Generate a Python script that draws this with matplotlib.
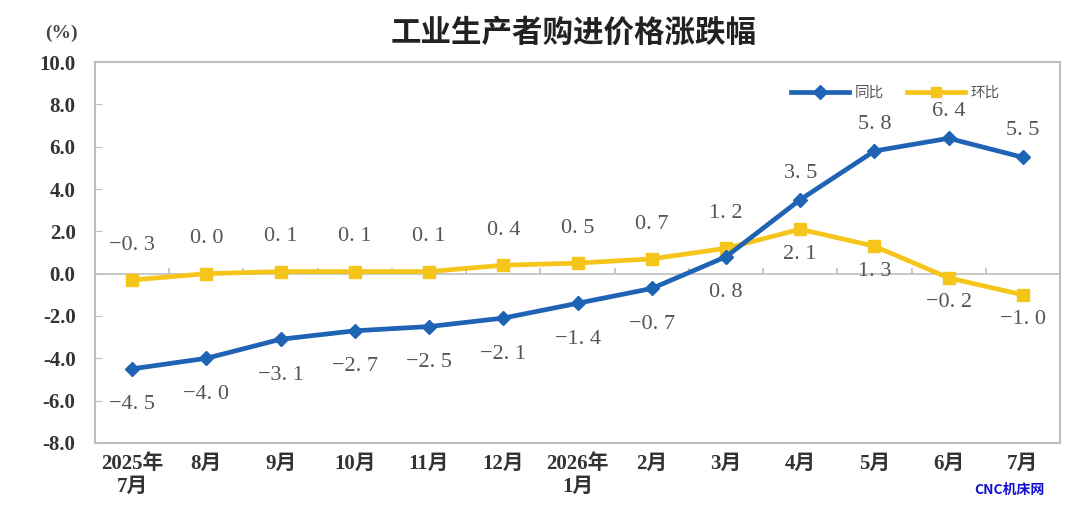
import numpy as np
import matplotlib.pyplot as plt
from matplotlib.lines import Line2D

#podaci
months = ["2025年\n7月", "8月", "9月", "10月", "11月", "12月", "2026年\n1月",
          "2月", "3月", "4月", "5月", "6月", "7月"]
yoy = [-4.5, -4.0, -3.1, -2.7, -2.5, -2.1, -1.4, -0.7, 0.8, 3.5, 5.8, 6.4, 5.5]
mom = [-0.3, 0.0, 0.1, 0.1, 0.1, 0.4, 0.5, 0.7, 1.2, 2.1, 1.3, -0.2, -1.0]
yticks = [-8, -6, -4, -2, 0, 2, 4, 6, 8, 10]

blue = "#1f63b5"
yellow = "#f6c51b"
grey = "#bfbfbf"
serif = ["Liberation Serif", "Noto Sans CJK SC", "DejaVu Serif"]

fig = plt.figure(figsize=(10.8, 5.18), dpi=100)
ax = fig.add_axes([0.088, 0.145, 0.8935, 0.735])
x = np.arange(len(months))

#linije
ax.plot(x, mom, color=yellow, lw=3.4, marker="s", ms=8, zorder=3)
ax.plot(x, yoy, color=blue, lw=3.4, marker="D", ms=7.5, zorder=4)

#nulta linija s crticama izmedu mjeseci
ax.axhline(0, color=grey, lw=1.2, zorder=1)
ax.vlines(x[:-1] + 0.5, 0, 0.25, color=grey, lw=1.2, zorder=1)

#oznake vrijednosti
def fmt(v):
    s = "%.1f" % v
    s = s.replace(".", ". ").replace("-", "\u2212")
    return s

for i in range(len(x)):
    if i < 9:
        dy_yoy, dy_mom = -26, 25
    else:
        dy_yoy, dy_mom = 19, -18
    ax.annotate(fmt(yoy[i]), (x[i], yoy[i]), xytext=(0, dy_yoy), textcoords="offset points",
                ha="center", va="center", fontsize=16, color="#555555", family=serif)
    ax.annotate(fmt(mom[i]), (x[i], mom[i]), xytext=(0, dy_mom), textcoords="offset points",
                ha="center", va="center", fontsize=16, color="#555555", family=serif)

#osi
ax.set_xlim(-0.5, len(months) - 0.5)
ax.set_ylim(-8, 10)
ax.set_yticks(yticks)
ax.set_yticklabels(["%.1f" % t for t in yticks], family=serif, fontweight="bold",
                   fontsize=15, color="#333333")
ax.set_xticks(x)
ax.set_xticklabels(months, family=serif, fontweight="bold", fontsize=15, color="#333333")
ax.tick_params(axis="x", length=0, pad=8)
ax.tick_params(axis="y", direction="in", length=5, color=grey, pad=14)
for s in ax.spines.values():
    s.set_color(grey)
    s.set_linewidth(1.5)

#legenda
handles = [Line2D([], [], color=blue, lw=3.4, marker="D", ms=7),
           Line2D([], [], color=yellow, lw=3.4, marker="s", ms=7)]
fig.legend(handles, ["同比", "环比"], loc="center", bbox_to_anchor=(0.829, 0.82),
           ncol=2, frameon=False, handlelength=4, handletextpad=0.35, columnspacing=1.6,
           prop={"family": "Noto Sans CJK SC", "size": 10.5}, labelcolor="#555555")

#naslov
fig.text(0.531, 0.936, "工业生产者购进价格涨跌幅", ha="center", va="center",
         fontsize=22, family="Noto Sans CJK SC", fontweight="bold", color="#222222")
fig.text(0.057, 0.936, "(%)", ha="center", va="center", fontsize=14,
         family=serif, fontweight="bold", color="#444444")
fig.text(0.935, 0.054, "CNC机床网", ha="center", va="center", fontsize=10,
         family="Noto Sans CJK SC", fontweight="bold", color="#1010d0")

fig.savefig("out.png", dpi=100)
